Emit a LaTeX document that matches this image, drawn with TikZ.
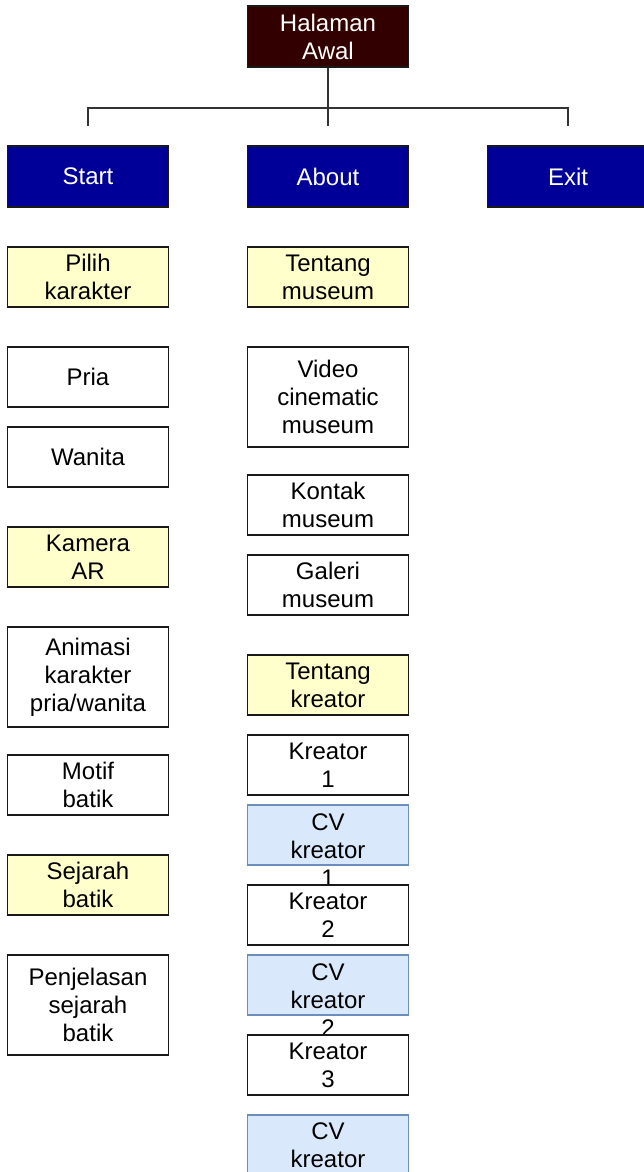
\documentclass[tikz,border=0pt]{standalone}
\usepackage{fontspec}
\setmainfont{Liberation Sans}
\definecolor{maroon}{HTML}{330000}
\definecolor{navy}{HTML}{000099}
\definecolor{paleyellow}{HTML}{FFFFCC}
\definecolor{paleblue}{HTML}{DAE8FC}
\definecolor{blueedge}{HTML}{6C8EBF}
\definecolor{edgegray}{HTML}{333333}
\begin{document}
\begin{tikzpicture}[x=1pt,y=-1pt,
  every node/.style={font=\fontsize{24}{28}\selectfont, align=center, inner sep=0pt},
  box/.style={draw=black!90, line width=1.5pt, rectangle, minimum width=161pt, minimum height=60pt},
  tallbox/.style={box, minimum height=100pt},
  rootbox/.style={box, fill=maroon, text=white, minimum height=61pt},
  menubox/.style={box, fill=navy, text=white, minimum height=61pt},
  yelbox/.style={box, fill=paleyellow},
  cvbox/.style={box, fill=paleblue, draw=blueedge},
  conn/.style={draw=edgegray, line width=1.5pt}
]
\clip (0,0) rectangle (644,1172);
\fill[white] (0,0) rectangle (644,1172);

% top level
\node[rootbox] (ha) at (328,36.5) {Halaman\\Awal};
\node[menubox] (start) at (88,176.5) {Start};
\node[menubox] (about) at (328,176.5) {About};
\node[menubox] (exit) at (568,176.5) {Exit};

\coordinate (jS) at (88,126);
\coordinate (jA) at (328,126);
\coordinate (jE) at (568,126);
\draw[conn] (ha.south) -- ++(0,40) -| (jS);
\draw[conn] (ha.south) -- (jA);
\draw[conn] (ha.south) -- ++(0,40) -| (jE);

% left column
\node[yelbox] (pilih) at (88,277) {Pilih\\karakter};
\node[box] (pria) at (88,377) {Pria};
\node[box] (wanita) at (88,457) {Wanita};
\node[yelbox] (kamera) at (88,557) {Kamera\\AR};
\node[tallbox] (animasi) at (88,677) {Animasi\\karakter\\pria/wanita};
\node[box] (motif) at (88,785) {Motif\\batik};
\node[yelbox] (sejarah) at (88,885) {Sejarah\\batik};
\node[tallbox] (penjelasan) at (88,1005) {Penjelasan\\sejarah\\batik};

% middle column
\node[yelbox] (tmuseum) at (328,277) {Tentang\\museum};
\node[tallbox] (video) at (328,397) {Video\\cinematic\\museum};
\node[box] (kontak) at (328,505) {Kontak\\museum};
\node[box] (galeri) at (328,585) {Galeri\\museum};
\node[yelbox] (tkreator) at (328,685) {Tentang\\kreator};
\node[box] (k1) at (328,765) {Kreator\\1};
\node[cvbox] (cv1) at (328,835) {};
\node (cv1t) at (328,850) {CV\\kreator\\1};
\node[box] (k2) at (328,915) {Kreator\\2};
\node[cvbox] (cv2) at (328,985) {};
\node (cv2t) at (328,1000) {CV\\kreator\\2};
\node[box] (k3) at (328,1065) {Kreator\\3};
\node[cvbox] (cv3) at (328,1145) {CV\\kreator};
\end{tikzpicture}
\end{document}
